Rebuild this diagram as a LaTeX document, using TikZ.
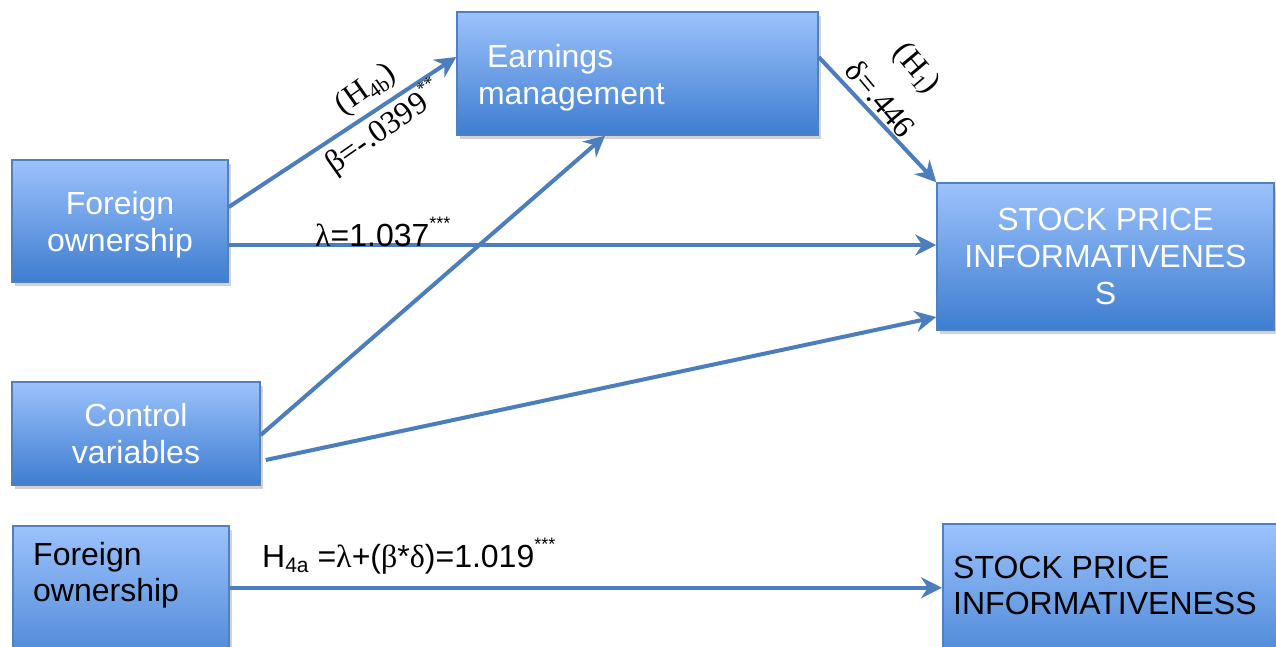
\documentclass[tikz,border=0pt]{standalone}
\usepackage{fontspec}
\setmainfont{Liberation Sans}
\newfontfamily\tms{Liberation Serif}
\usetikzlibrary{arrows.meta,shadows}
\definecolor{boxtop}{RGB}{156,194,252}
\definecolor{boxbot}{RGB}{62,125,208}
\definecolor{boxline}{RGB}{79,129,189}
\definecolor{arr}{RGB}{76,126,190}
\newcommand\mysup[1]{\raisebox{1.0ex}{\fontsize{18}{18}\selectfont #1}}
\newcommand\mysub[1]{\raisebox{-0.35ex}{\fontsize{21}{21}\selectfont #1}}
\begin{document}
\begin{tikzpicture}[x=1pt,y=-1pt,
  box/.style={draw=boxline, line width=1.5pt, top color=boxtop, bottom color=boxbot,
    drop shadow={shadow xshift=3pt,shadow yshift=-4pt,opacity=0.35},
    inner sep=0pt, text=white, font=\fontsize{32}{37}\selectfont, align=center},
  btxt/.style={inner sep=0pt, align=left, text=black, font=\fontsize{32}{36}\selectfont},
  conn/.style={draw=arr, line width=4pt, -{Stealth[length=21pt,width=21pt]}},
  lbl/.style={font=\tms\fontsize{32}{36}\selectfont, inner sep=0pt},
  val/.style={font=\fontsize{32}{37}\selectfont, inner sep=0pt, anchor=base west}]
\useasboundingbox (0,0) rectangle (1276,646);
\clip (0,0) rectangle (1276,646);
\fill[white] (0,0) rectangle (1276,646);

% boxes
\node[box, minimum width=216pt, minimum height=122pt] (fo1) at (120,221) {\rule{0pt}{30pt}Foreign\\ownership};
\node[box, minimum width=361pt, minimum height=123pt, text width=319pt, inner xsep=21pt, align=left] (em) at (637.5,73.5) {\rule{0pt}{32pt}\hspace*{9pt}Earnings\\management};
\node[box, minimum width=337pt, minimum height=147pt] (spi1) at (1105.5,256.5) {STOCK PRICE\\INFORMATIVENES\\S};
\node[box, minimum width=248pt, minimum height=103pt] (cv) at (136,433.5) {Control\\variables};
\node[box, minimum width=216pt, minimum height=160pt, anchor=north west] (fo2) at (12,525) {};
\node[box, minimum width=340pt, minimum height=160pt, anchor=north west] (spi2) at (942,523) {};
\node[btxt, anchor=north west] (fo2t) at (33,542) {Foreign\\ownership};
\node[btxt, anchor=north west] (spi2t) at (953,556) {STOCK PRICE\\INFORMATIVENESS};

% connectors
\draw[conn] ([yshift=14pt]fo1.east) -- ([yshift=16.5pt]em.west);
\draw[conn] ([yshift=16.5pt]em.east) -- (spi1.north west);
\draw[conn] ([yshift=-24pt]fo1.east) -- ([yshift=11.5pt]spi1.west);
\draw[conn] ([yshift=-1.5pt]cv.east) -- ([xshift=-32.5pt]em.south);
\draw[conn] ([xshift=5pt,yshift=-26.5pt]cv.east) -- ([yshift=-60.5pt]spi1.west);
\draw[conn] ([yshift=18pt]fo2.east) -- ([yshift=16pt]spi2.west);

% labels
\node[lbl, rotate=35] (h4b) at (366,90) {(H\mysub{4b})};
\node[lbl, rotate=35] (beta) at (384,128) {β=-.0399\mysup{**}};
\node[lbl, rotate=-50] (h1) at (916,69) {(H\mysub{1})};
\node[lbl, rotate=-50] (delta) at (881,99) {δ=.446};
\node[val] (lam) at (315,246) {{\tms λ}=1.037\mysup{***}};
\node[val] (h4a) at (262,567) {H\mysub{4a} ={\tms λ}+({\tms β}*{\tms δ})=1.019\mysup{***}};
\end{tikzpicture}
\end{document}
